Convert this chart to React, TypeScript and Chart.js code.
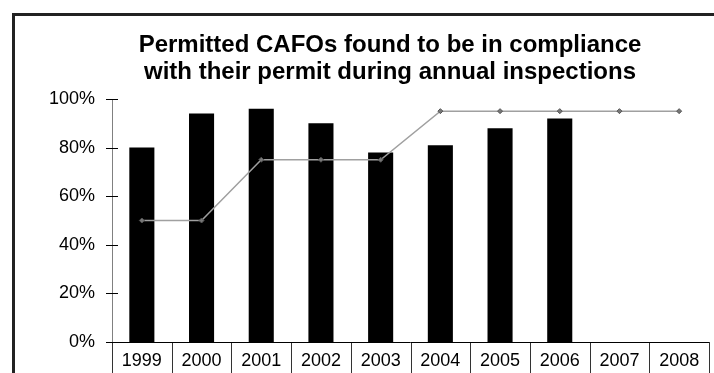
import React, { useEffect, useRef } from 'react';
import { Chart, registerables } from 'chart.js';

Chart.register(...registerables);

const YEARS = ['1999', '2000', '2001', '2002', '2003', '2004', '2005', '2006', '2007', '2008'];
const COMPLIANCE = [80, 94, 96, 90, 78, 81, 88, 92, null, null];
const TARGET = [50, 50, 75, 75, 75, 95, 95, 95, 95, 95];
const Y_TICKS = [0, 20, 40, 60, 80, 100];
const TITLE_LINES = [
  'Permitted CAFOs found to be in compliance',
  'with their permit during annual inspections',
];

const FONT = '"Liberation Sans", Arial, Helvetica, sans-serif';

const titlePlugin = {
  id: 'offsetTitle',
  afterDraw(chart: any) {
    const ctx = chart.ctx;
    ctx.save();
    ctx.font = `bold 24px ${FONT}`;
    ctx.fillStyle = '#000';
    ctx.textAlign = 'center';
    ctx.textBaseline = 'alphabetic';
    TITLE_LINES.forEach((line, i) => ctx.fillText(line, 375, 36 + i * 26.5));
    ctx.restore();
  },
};

// Excel-style cross tick marks on the value axis and category separators below the axis
const axisDecorPlugin = {
  id: 'axisDecor',
  afterDraw(chart: any) {
    const ctx = chart.ctx;
    const y = chart.scales.y;
    const x = chart.scales.x;
    const { left, right, bottom } = chart.chartArea;
    ctx.save();
    ctx.lineWidth = 1;
    ctx.strokeStyle = '#000';
    ctx.beginPath();
    y.ticks.forEach((t: any) => {
      const py = Math.round(y.getPixelForValue(t.value)) + 0.5;
      ctx.moveTo(left - 6, py);
      ctx.lineTo(left + 6, py);
    });
    ctx.stroke();

    const n = x.getLabels().length;
    ctx.strokeStyle = '#333';
    ctx.beginPath();
    for (let i = 0; i <= n; i++) {
      const px = Math.round(left + (i * (right - left)) / n) + 0.5;
      ctx.moveTo(px, bottom);
      ctx.lineTo(px, chart.height);
    }
    ctx.stroke();

    ctx.strokeStyle = '#000';
    ctx.beginPath();
    const by = Math.round(bottom) + 0.5;
    ctx.moveTo(left, by);
    ctx.lineTo(right, by);
    ctx.stroke();
    ctx.restore();
  },
};

export default function App() {
  const ref = useRef<HTMLCanvasElement | null>(null);

  useEffect(() => {
    if (!ref.current) return;
    const chart = new Chart(ref.current, {
      type: 'bar',
      data: {
        labels: YEARS,
        datasets: [
          {
            type: 'line',
            label: 'Target',
            data: TARGET,
            order: 0,
            borderColor: '#a0a0a0',
            borderWidth: 1.5,
            tension: 0,
            pointStyle: 'rectRot',
            pointRadius: 2.5,
            pointBackgroundColor: '#777',
            pointBorderColor: '#555',
            pointBorderWidth: 1,
          } as any,
          {
            type: 'bar',
            label: 'Compliance',
            data: COMPLIANCE,
            order: 1,
            backgroundColor: '#000',
            borderWidth: 0,
            categoryPercentage: 1,
            barPercentage: 0.42,
          } as any,
        ],
      },
      options: {
        responsive: false,
        animation: false,
        devicePixelRatio: 1,
        layout: { padding: { top: 83, left: 34, right: 5, bottom: 0 } },
        plugins: {
          legend: { display: false },
          tooltip: { enabled: false },
          title: { display: false },
        },
        scales: {
          x: {
            afterFit: (scale: any) => {
              scale.height = 31;
            },
            grid: { display: false, drawTicks: false, tickLength: 0 },
            border: { display: false },
            ticks: {
              font: { family: FONT, size: 18 },
              color: '#000',
              padding: 8,
              maxRotation: 0,
              autoSkip: false,
            },
          },
          y: {
            min: 0,
            max: 100,
            afterFit: (scale: any) => {
              scale.width = 63;
            },
            afterBuildTicks: (scale: any) => {
              scale.ticks = Y_TICKS.map((v) => ({ value: v }));
            },
            grid: { display: false, drawTicks: false, tickLength: 0 },
            border: { color: '#808080', width: 1 },
            ticks: {
              font: { family: FONT, size: 18 },
              color: '#000',
              padding: 17,
              callback: (v: any) => `${v}%`,
            },
          },
        },
      },
      plugins: [titlePlugin, axisDecorPlugin],
    });
    return () => chart.destroy();
  }, []);

  return (
    <div
      style={{
        position: 'fixed',
        left: 0,
        top: 0,
        width: 714,
        height: 373,
        overflow: 'hidden',
        background: '#fff',
      }}
    >
      <div
        style={{
          position: 'absolute',
          left: 12,
          top: 13,
          width: 760,
          height: 420,
          borderLeft: '3px solid #222',
          borderTop: '3px solid #222',
          boxSizing: 'border-box',
        }}
      />
      <canvas
        ref={ref}
        width={699}
        height={357}
        style={{ position: 'absolute', left: 15, top: 16, width: 699, height: 357 }}
      />
    </div>
  );
}
